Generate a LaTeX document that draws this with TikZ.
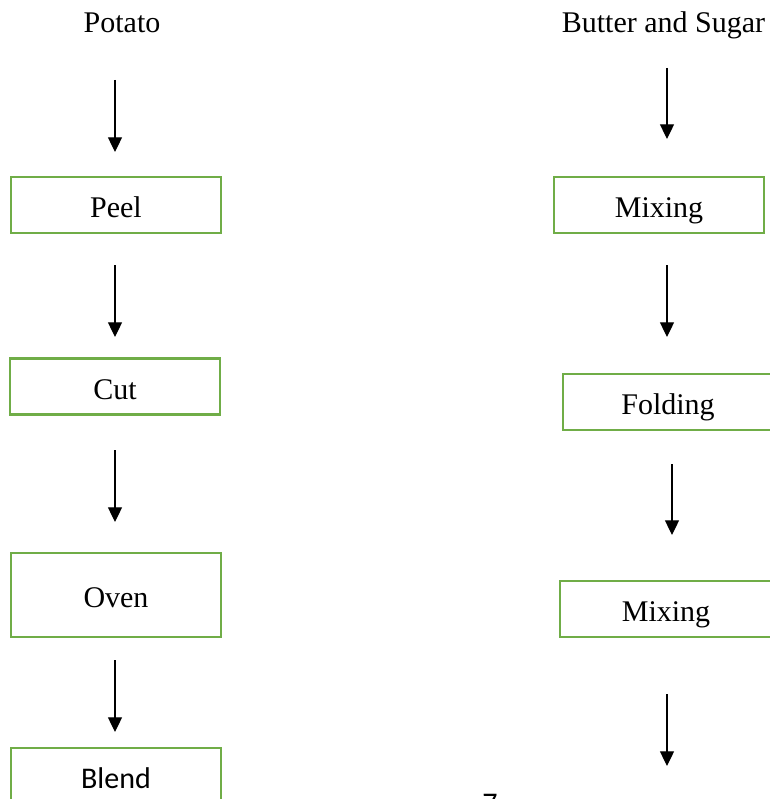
\documentclass[tikz,border=0pt]{standalone}
\usepackage{fontspec}
\setmainfont{Liberation Serif}
\newfontfamily\calib{Carlito}
\usetikzlibrary{arrows.meta}
\definecolor{boxgreen}{HTML}{70AD47}
\begin{document}
\begin{tikzpicture}[x=0.75pt,y=-0.75pt,
  every node/.style={font=\fontsize{22.5pt}{27pt}\selectfont, text height=19.4pt, text depth=0pt, inner sep=0pt},
  stepbox/.style={draw=boxgreen, line width=1.9pt, fill=white, minimum width=157.5pt, minimum height=42pt},
  flowarrow/.style={line width=0.9pt, -{Triangle[length=11pt,width=10.5pt]}}]
\useasboundingbox (0,0) rectangle (770,799);
% left column
\node (potato) at (122,20) {Potato};
\node[stepbox] (peel) at (116,205) {Peel};
\node[stepbox] (cut) at (115,386.5) {Cut};
\node[stepbox, minimum height=63pt] (oven) at (116,595) {Oven};
\node[stepbox, font=\fontsize{22.5pt}{27pt}\calib] (blend) at (116,776) {Blend};
% right column
\node (butter) at (663.5,20) {Butter and Sugar};
\node[stepbox] (mix1) at (659,205) {Mixing};
\node[stepbox] (fold) at (668,402) {Folding};
\node[stepbox, minimum width=159pt] (mix2) at (666,609) {Mixing};
% page number
\node[font=\fontsize{22.5pt}{27pt}\calib, anchor=base] (pagenum) at (490,813) {7};
% arrow coordinates
\coordinate (l1s) at (115,80);  \coordinate (l1e) at (115,152);
\coordinate (l2s) at (115,265); \coordinate (l2e) at (115,337);
\coordinate (l3s) at (115,450); \coordinate (l3e) at (115,522);
\coordinate (l4s) at (115,660); \coordinate (l4e) at (115,732);
\coordinate (r1s) at (667,68);  \coordinate (r1e) at (667,139);
\coordinate (r2s) at (667,265); \coordinate (r2e) at (667,337);
\coordinate (r3s) at (672,464); \coordinate (r3e) at (672,535);
\coordinate (r4s) at (667,694); \coordinate (r4e) at (667,766);
\foreach \a in {l1,l2,l3,l4,r1,r2,r3,r4}
  \draw[flowarrow] (\a s) -- (\a e);
\end{tikzpicture}
\end{document}
